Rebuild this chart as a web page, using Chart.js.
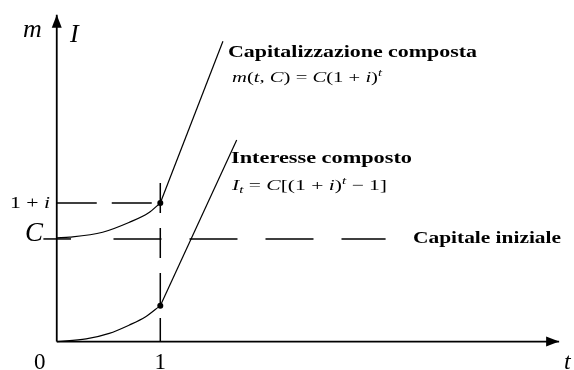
<!DOCTYPE html>
<html>
<head>
<meta charset="utf-8">
<script src="https://cdn.jsdelivr.net/npm/chart.js@4.4.0/dist/chart.umd.min.js"></script>
<style>
  html, body { margin: 0; padding: 0; background: #fff; }
  #wrap { width: 574px; height: 370px; position: relative; }
</style>
</head>
<body>
<div id="wrap"><canvas id="capChart"></canvas></div>
<script>
// values (t on x, C = 1 on y)
const tUpper = [0, 0.126, 0.443, 0.697, 0.888, 1];
const mUpper = [0.99, 0.997, 1.044, 1.137, 1.23, 1.324];
const tLower = [0, 0.284, 0.507, 0.697, 0.855, 1];
const iLower = [0, 0.025, 0.078, 0.156, 0.234, 0.343];
const tUpperLine = [1, 1.605];
const mUpperLine = [1.324, 2.869];
const tLowerLine = [1, 1.738];
const iLowerLine = [0.343, 1.925];
const capitale = 0.98;
const unoPiuI = 1.324;
const xTickValues = [0, 1];
const xTickLabels = ['0', '1'];
const yTickValues = [1.324, 0.98];
const yTickLabels = ['1 + i', 'C'];
const xAxisEnd = 4.852;
const yAxisEnd = 3.121;

function pts(xs, ys) {
    return xs.map(function(x, k) { return { x: x, y: ys[k] }; });
}

function line(data, opts) {
    return Object.assign({
        data: data,
        showLine: true,
        borderColor: '#000',
        borderWidth: 1.2,
        pointRadius: 0,
        tension: 0,
        fill: false
    }, opts || {});
}

var serif = '"Liberation Serif", "DejaVu Serif", serif';

// draw a row of text runs, squeezed/stretched to a target width
function drawRuns(ctx, runs, x, y, size, width, bold) {
    function fontOf(r) {
        var s = (r.sup || r.sub) ? size * 0.7 : size;
        return (r.it ? 'italic ' : '') + (bold ? 'bold ' : '') + s + 'px ' + serif;
    }
    var total = 0;
    runs.forEach(function(r) { ctx.font = fontOf(r); total += ctx.measureText(r.s).width; });
    var sx = width ? width / total : 1;
    ctx.save();
    ctx.translate(x, y);
    ctx.scale(sx, 1);
    ctx.fillStyle = '#000';
    ctx.textBaseline = 'alphabetic';
    ctx.textAlign = 'left';
    var cx = 0;
    runs.forEach(function(r) {
        ctx.font = fontOf(r);
        var dy = r.sup ? -size * 0.42 : (r.sub ? size * 0.22 : 0);
        ctx.fillText(r.s, cx, dy);
        cx += ctx.measureText(r.s).width;
    });
    ctx.restore();
}

var decorPlugin = {
    id: 'decor',
    afterDatasetsDraw: function(chart) {
        var ctx = chart.ctx;
        var xs = chart.scales.x, ys = chart.scales.y;
        var ox = xs.getPixelForValue(0), oy = ys.getPixelForValue(0);
        var ex = xs.getPixelForValue(xAxisEnd), ey = ys.getPixelForValue(yAxisEnd);
        ctx.save();
        ctx.fillStyle = '#000';
        // arrow heads
        ctx.beginPath();
        ctx.moveTo(ex, oy);
        ctx.lineTo(ex - 13, oy - 5);
        ctx.lineTo(ex - 13, oy + 5);
        ctx.closePath();
        ctx.fill();
        ctx.beginPath();
        ctx.moveTo(ox, ey);
        ctx.lineTo(ox - 5, ey + 13);
        ctx.lineTo(ox + 5, ey + 13);
        ctx.closePath();
        ctx.fill();

        // axis names
        drawRuns(ctx, [{ s: 'm', it: true }], 23, 37, 26);
        drawRuns(ctx, [{ s: 'I', it: true }], 70, 42, 26);
        drawRuns(ctx, [{ s: 't', it: true }], 564, 369, 24);

        // tick labels
        ctx.font = '23px ' + serif;
        ctx.textAlign = 'center';
        ctx.textBaseline = 'alphabetic';
        xTickValues.forEach(function(v, k) {
            var px = xs.getPixelForValue(v);
            if (v === 0) px -= 17;
            ctx.fillText(xTickLabels[k], px, 369);
        });
        var p1 = ys.getPixelForValue(yTickValues[0]);
        drawRuns(ctx, [{ s: '1 + ' }, { s: 'i', it: true }], 10, p1 + 5, 17, 40);
        var p2 = ys.getPixelForValue(yTickValues[1]);
        drawRuns(ctx, [{ s: yTickLabels[1], it: true }], 25, p2 + 2, 27);

        // annotations
        drawRuns(ctx, [{ s: 'Capitalizzazione composta' }], 228, 57, 16, 249, true);
        drawRuns(ctx, [
            { s: 'm', it: true }, { s: '(' }, { s: 't', it: true }, { s: ', ' },
            { s: 'C', it: true }, { s: ') = ' }, { s: 'C', it: true },
            { s: '(1 + ' }, { s: 'i', it: true }, { s: ')' }, { s: 't', it: true, sup: true }
        ], 232, 82, 15, 150);
        drawRuns(ctx, [{ s: 'Interesse composto' }], 231, 163, 16, 181, true);
        drawRuns(ctx, [
            { s: 'I', it: true }, { s: 't', it: true, sub: true }, { s: ' = ' },
            { s: 'C', it: true }, { s: '[(1 + ' }, { s: 'i', it: true }, { s: ')' },
            { s: 't', it: true, sup: true }, { s: ' \u2212 1]' }
        ], 232, 190, 15, 155);
        drawRuns(ctx, [{ s: 'Capitale iniziale' }], 413, 243, 16, 148, true);
        ctx.restore();
    }
};

document.addEventListener('DOMContentLoaded', function() {
    var ctx = document.getElementById('capChart').getContext('2d');
    new Chart(ctx, {
        type: 'scatter',
        data: {
            datasets: [
                // axes
                line([{ x: 0, y: 0 }, { x: xAxisEnd, y: 0 }], { borderWidth: 1.8 }),
                line([{ x: 0, y: 0 }, { x: 0, y: yAxisEnd }], { borderWidth: 1.8 }),
                // dashed guides
                line([{ x: 0, y: unoPiuI }, { x: 1, y: unoPiuI }], { borderWidth: 1.5, borderDash: [40, 15] }),
                line([{ x: -0.129, y: capitale }, { x: 0.138, y: capitale }], { borderWidth: 1.5 }),
                line([{ x: 0.548, y: capitale }, { x: 3.176, y: capitale }], { borderWidth: 1.5, borderDash: [48, 28] }),
                line([{ x: 1, y: 1.514 }, { x: 1, y: 0 }], { borderWidth: 1.5, borderDash: [30, 15] }),
                // curves
                line(pts(tUpper, mUpper), { cubicInterpolationMode: 'monotone' }),
                line(pts(tLower, iLower), { cubicInterpolationMode: 'monotone' }),
                line(pts(tUpperLine, mUpperLine)),
                line(pts(tLowerLine, iLowerLine)),
                // points at t = 1
                {
                    data: [{ x: 1, y: mUpper[mUpper.length - 1] }, { x: 1, y: iLower[iLower.length - 1] }],
                    showLine: false,
                    pointRadius: 3,
                    pointBackgroundColor: '#000',
                    pointBorderColor: '#000',
                    pointBorderWidth: 0
                }
            ]
        },
        options: {
            responsive: true,
            maintainAspectRatio: false,
            animation: false,
            layout: { padding: 0 },
            plugins: {
                legend: { display: false },
                tooltip: { enabled: false }
            },
            scales: {
                x: { type: 'linear', min: -0.5095, max: 4.957, display: false },
                y: { type: 'linear', min: -0.2336, max: 3.2243, display: false }
            }
        },
        plugins: [decorPlugin]
    });
});
</script>
</body>
</html>
